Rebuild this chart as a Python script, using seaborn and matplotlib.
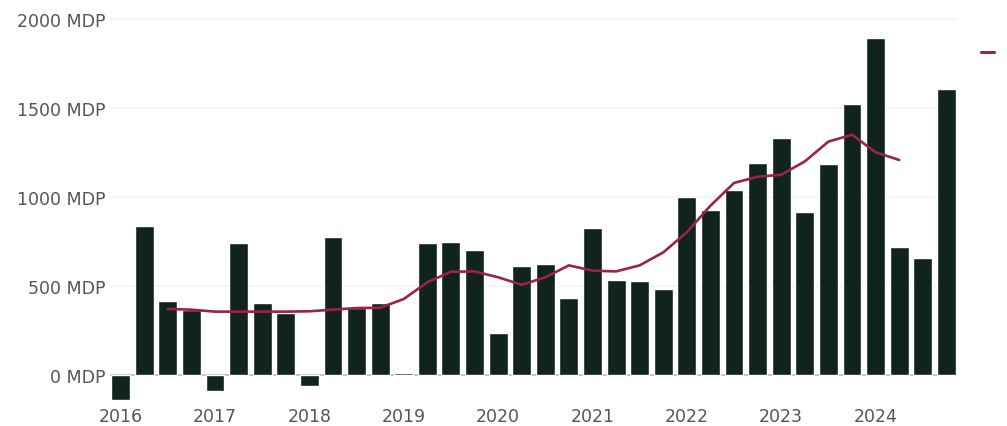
import pandas as pd
import matplotlib
matplotlib.use("Agg")
import matplotlib.pyplot as plt
from matplotlib.lines import Line2D
import seaborn as sns

# quarterly values (MDP), 2016 T1 .. 2024 T4
quarters = [f"{y}T{q}" for y in range(2016, 2025) for q in range(1, 5)]
values = [-142, 839, 418, 365,
          -92, 743, 403, 348,
          -64, 777, 375, 403,
          12, 743, 749, 700,
          234, 610, 622, 431,
          824, 532, 526, 481,
          998, 925, 1038, 1189,
          1330, 914, 1184, 1521,
          1892, 717, 656, 1605]

# trend line, from 2016 T3 to 2024 T2
trend_start = 2
trend = [371, 367, 356, 356, 356, 356, 358, 367,
         376, 378, 427, 521, 580, 582, 549, 507,
         549, 616, 586, 582, 616, 689, 802, 951,
         1079, 1114, 1125, 1200, 1311, 1350, 1251, 1208]

years = [str(y) for y in range(2016, 2025)]

bar_color = "#10231e"
line_color = "#9b2248"
text_color = "#555555"

df = pd.DataFrame({"quarter": quarters, "value": values})
df["pos"] = range(len(df))
tr = pd.DataFrame({"pos": range(trend_start, trend_start + len(trend)), "value": trend})

sns.set_style("white")
plt.rcParams["font.family"] = ["DejaVu Sans"]

fig = plt.figure(figsize=(10.07, 4.27), dpi=100)
ax = fig.add_axes([110 / 1007, 0.0548, (957 - 110) / 1007, 0.9026])

sns.barplot(data=df, x="pos", y="value", native_scale=True, color=bar_color,
            saturation=1, width=0.8, ax=ax, zorder=3)
sns.lineplot(data=tr, x="pos", y="value", color=line_color, linewidth=1.9,
             ax=ax, zorder=4)

ax.set_xlim(-0.45, 35.45)
ax.set_ylim(-155, 2010)

ax.set_yticks([0, 500, 1000, 1500, 2000])
ax.set_yticklabels([f"{v} MDP" for v in [0, 500, 1000, 1500, 2000]])
ax.set_xticks(range(0, 36, 4))
ax.set_xticklabels(years)

for v in [500, 1000, 1500, 2000]:
    ax.axhline(v, color="#f3f3f3", linewidth=1.2, zorder=1)
ax.axhline(0, color="#c4c4c4", linewidth=1.4, zorder=2)

ax.tick_params(axis="both", length=0, labelsize=12.5, labelcolor=text_color)
ax.tick_params(axis="y", pad=3)
ax.tick_params(axis="x", pad=3)
ax.set_xlabel("")
ax.set_ylabel("")
for s in ax.spines.values():
    s.set_visible(False)

handle = Line2D([0], [0], color=line_color, linewidth=2.2)
fig.legend(handles=[handle], labels=[""], loc="center left",
           bbox_to_anchor=(981 / 1007, 1 - 54 / 427), frameon=False,
           handlelength=0.75, borderpad=0, borderaxespad=0, fontsize=12.5)

fig.savefig("out.png", dpi=100)
